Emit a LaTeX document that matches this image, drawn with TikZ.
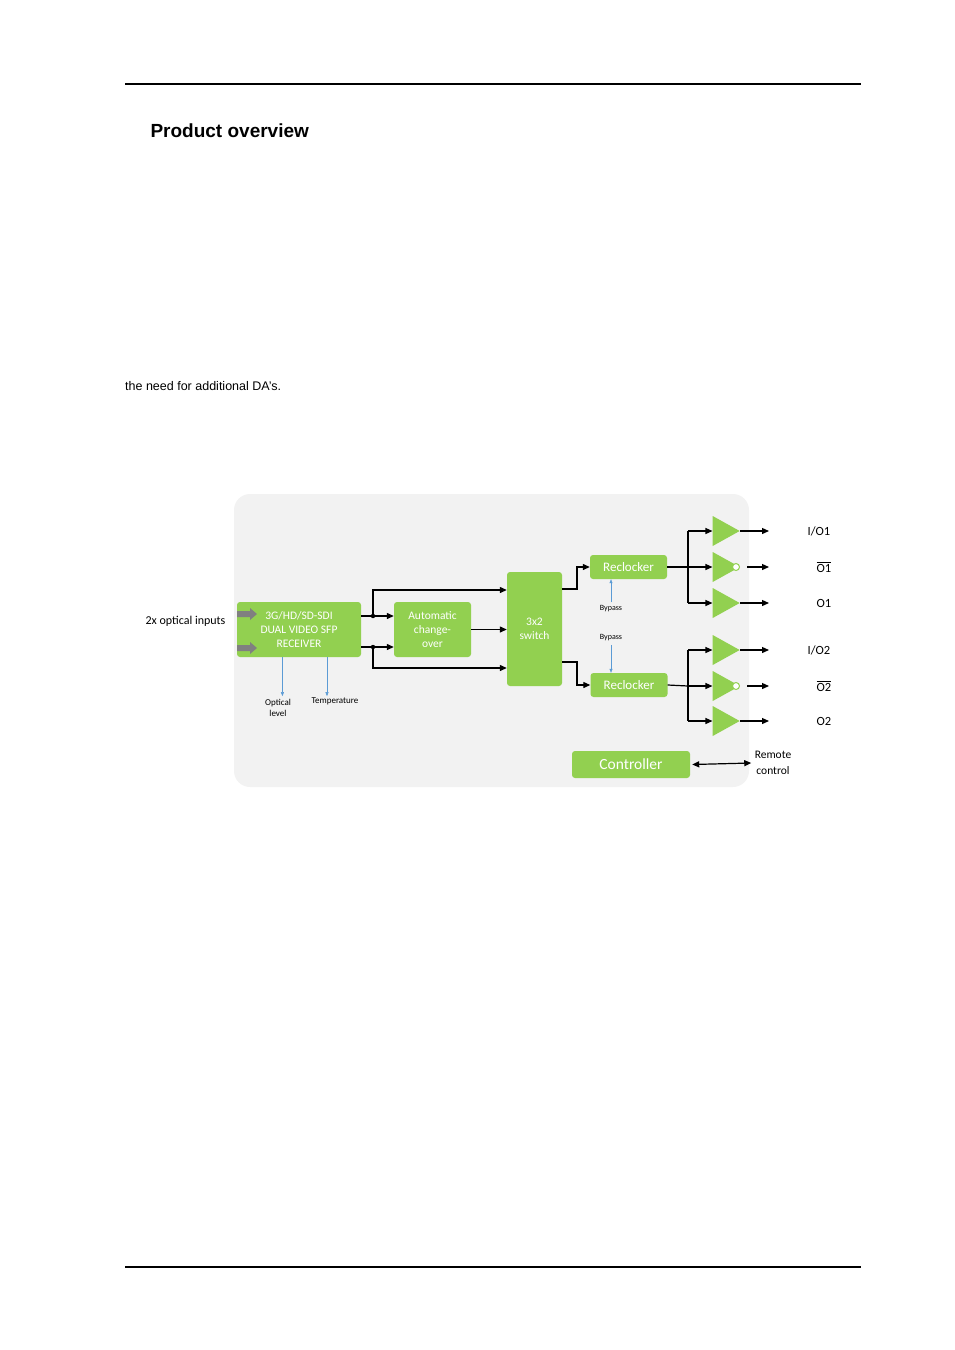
\documentclass[tikz,border=0pt]{standalone}
\usepackage{fontspec}
\setmainfont{Liberation Sans}
\newfontfamily\diagfont{Carlito}
\usetikzlibrary{arrows.meta,shapes.geometric}
\definecolor{blockgreen}{HTML}{92D050}
\definecolor{panelgrey}{HTML}{F2F2F2}
\definecolor{bypassblue}{HTML}{5B9BD5}

\begin{document}
\begin{tikzpicture}[x=1pt, y=-1pt,
  blockbox/.style={fill=blockgreen, rounded corners=3pt, text=white, font=\diagfont\fontsize{11.5}{14}\selectfont, align=center, inner sep=0pt},
  amp/.style={isosceles triangle, isosceles triangle stretches, fill=blockgreen, minimum width=30pt, minimum height=27pt, inner sep=0pt},
  sig/.style={-{Triangle[length=7pt,width=6pt]}, line width=1.2pt},
  bus/.style={line width=1.2pt},
  note/.style={font=\diagfont\fontsize{9}{10.5}\selectfont, align=center},
  port/.style={font=\diagfont\fontsize{12.5}{14}\selectfont},
  bypass/.style={-{Triangle[length=4pt,width=3pt]}, draw=bypassblue, line width=0.5pt}]
  \useasboundingbox (0,0) rectangle (954,1350);
  % page
  \draw[line width=1.5pt] (125,84) -- (861,84);
  \draw[line width=1.5pt] (125,1267) -- (861,1267);
  \node[anchor=base west, font=\bfseries\fontsize{19}{22}\selectfont] (title) at (147,137) {Product overview};
  \node[anchor=base west, font=\fontsize{12.5}{15}\selectfont, inner sep=0pt] (text) at (125,390) {the need for additional DA's.};

  % panel
  \fill[panelgrey, rounded corners=16pt] (234,494) rectangle (749,787);

  % blocks
  \node[blockbox, minimum width=124pt, minimum height=55pt] (rx)   at (299,629.5) {3G/HD/SD-SDI\\DUAL VIDEO SFP\\RECEIVER};
  \node[blockbox, minimum width=77pt,  minimum height=55pt] (aco)  at (432.5,629.5) {Automatic\\change-\\over};
  \node[blockbox, minimum width=55pt,  minimum height=114pt] (sw)  at (534.5,629) {3x2\\switch};
  \node[blockbox, minimum width=77pt,  minimum height=24pt, font=\diagfont\fontsize{13}{15}\selectfont] (rc1) at (628.5,567) {Reclocker};
  \node[blockbox, minimum width=77pt,  minimum height=24pt, font=\diagfont\fontsize{13}{15}\selectfont] (rc2) at (629,685) {Reclocker};
  \node[blockbox, minimum width=118pt, minimum height=27pt, font=\diagfont\fontsize{15.5}{18}\selectfont] (ctl) at (631,764.5) {Controller};

  % input arrows
  \fill[gray] (237,611) -- (250,611) -- (250,608) -- (257,614) -- (250,620) -- (250,617) -- (237,617) -- cycle;
  \fill[gray] (237,645) -- (250,645) -- (250,642) -- (257,648) -- (250,654) -- (250,651) -- (237,651) -- cycle;
  \node[port, anchor=east, font=\diagfont\fontsize{12}{14}\selectfont] (inlbl) at (229,621) {2x optical inputs};

  % receiver to change-over and switch
  \coordinate (j1) at (373,616);
  \coordinate (j2) at (373,647);
  \coordinate (u1) at (373,590);
  \coordinate (u2) at (373,668);
  \coordinate (s1) at (577,589);
  \coordinate (s2) at (577,662);
  \fill (j1) circle (2.2pt) (j2) circle (2.2pt);
  \draw[bus] (rx.east |- j1) -- (j1);
  \draw[bus] (rx.east |- j2) -- (j2);
  \draw[sig] (j1) -- (aco.west |- j1);
  \draw[sig] (j2) -- (aco.west |- j2);
  \draw[sig] (j1) -- (u1) -- (sw.west |- u1);
  \draw[sig] (j2) -- (u2) -- (sw.west |- u2);
  \draw[sig] (aco.east) -- (sw.west |- aco.east);

  % switch to reclockers
  \draw[sig] (sw.east |- s1) -- (s1) |- (rc1.west);
  \draw[sig] (sw.east |- s2) -- (s2) |- (rc2.west);

  % bypass
  \node[note, font=\diagfont\fontsize{8}{9}\selectfont] (bp1) at (611,609) {Bypass};
  \node[note, font=\diagfont\fontsize{8}{9}\selectfont] (bp2) at (611,638) {Bypass};
  \draw[bypass] (bp1.north) -- (bp1.north |- rc1.south);
  \draw[bypass] (bp2.south) -- (bp2.south |- rc2.north);

  % monitoring
  \node[note] (opt) at (278,708) {Optical\\level};
  \node[note] (temp) at (335,701) {Temperature};
  \draw[bypass] (rx.south -| opt.north east) ++(-12,0) -- ++(0,39);
  \draw[bypass] (rx.south -| temp.north) ++(-8,0) -- ++(0,39);

  % output drivers
  \foreach \g/\rc/\ya/\yb/\yc/\la/\lb/\lc in {1/rc1/531/567/603/{I/O1}/{$\overline{\mbox{O1}}$}/O1,
                                            2/rc2/650/686/721/{I/O2}/{$\overline{\mbox{O2}}$}/O2} {
    \node[amp] (a\g a) at (721.5,\ya) {};
    \node[amp] (a\g b) at (721.5,\yb) {};
    \node[amp] (a\g c) at (721.5,\yc) {};
    \coordinate (t\g) at (688,\ya);
    \coordinate (b\g) at (688,\yb);
    \coordinate (c\g) at (688,\yc);
    \coordinate (e\g a) at (769,\ya);
    \coordinate (e\g b) at (769,\yb);
    \coordinate (e\g c) at (769,\yc);
    \draw[bus] (\rc.east) -- (b\g);
    \draw[bus] (t\g) -- (c\g);
    \draw[sig] (t\g) -- (a\g a.west);
    \draw[sig] (b\g) -- (a\g b.west);
    \draw[sig] (c\g) -- (a\g c.west);
    \draw[sig] (a\g a.east) -- (e\g a);
    \draw[sig] (a\g b.east) ++(7,0) -- (e\g b);
    \draw[draw=blockgreen, fill=white, line width=1pt] (736,\yb) circle (3.5pt);
    \draw[sig] (a\g c.east) -- (e\g c);
    \node[port] (l\g a) at (819,\ya) {\la};
    \node[port] (l\g b) at (824,\yb) {\lb};
    \node[port] (l\g c) at (824,\yc) {\lc};
  }

  % remote
  \node[port, align=center, font=\diagfont\fontsize{11.5}{16}\selectfont] (rem) at (773,763) {Remote\\control};
  \draw[{Triangle[length=7pt,width=6pt]}-{Triangle[length=7pt,width=6pt]}, line width=1.2pt] (ctl.east) ++(2,0) -- (rem.west);
\end{tikzpicture}
\end{document}
